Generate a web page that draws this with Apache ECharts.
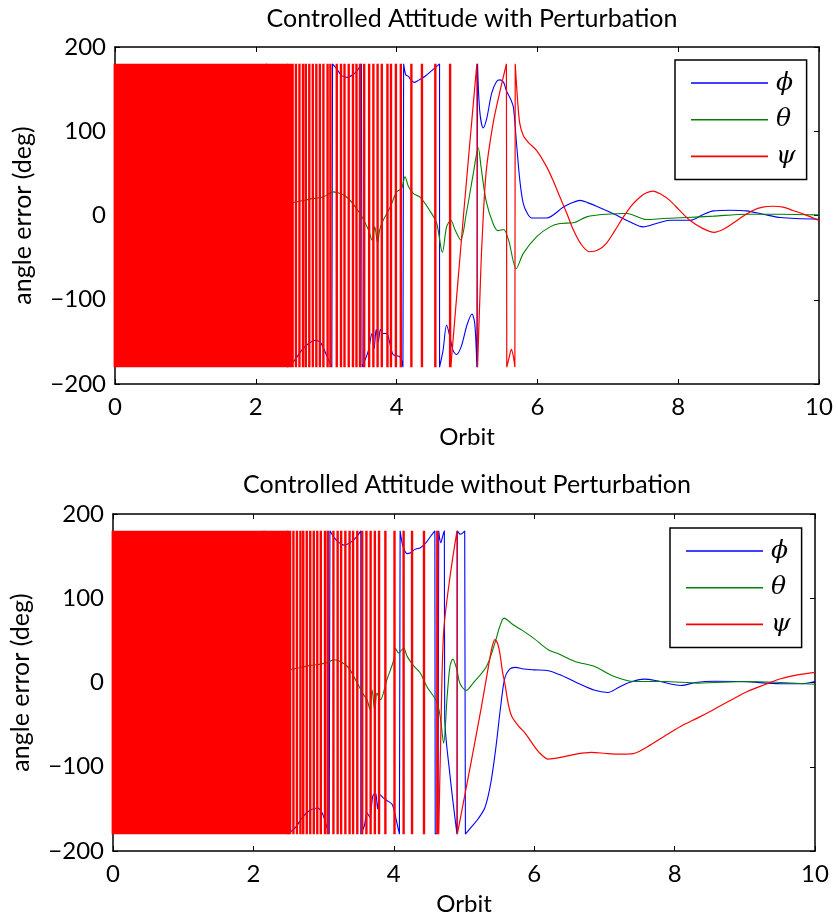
<!DOCTYPE html>
<html><head><meta charset="utf-8">
<script src="https://cdn.jsdelivr.net/npm/echarts@6/dist/echarts.min.js"></script>
<style>html,body{margin:0;padding:0;background:#fff}#c{width:838px;height:923px}</style>
</head><body><div id="c"></div>
<script>
// ---------- data ----------
const xTicks = [0, 2, 4, 6, 8, 10];
const yTicks = [-200, -100, 0, 100, 200];
const seriesNames = ['\u03d5', '\u03b8', '\u03c8'];   // ϕ, θ, ψ
const titles = ['Controlled Attitude with Perturbation', 'Controlled Attitude without Perturbation'];

// unresolved dense part of ψ (solid red band): estimated wrap-stroke positions (orbit)
const psiDense = [0.00,0.03,0.06,0.09,0.12,0.15,0.18,0.21,0.24,0.27,0.30,0.33,0.36,0.39,0.42,0.45,0.48,0.51,0.54,0.57,0.60,0.63,0.66,0.69,0.72,0.75,0.78,0.81,0.84,0.87,0.90,0.93,0.96,0.99,1.02,1.05,1.08,1.11,1.14,1.17,1.20,1.23,1.26,1.29,1.32,1.35,1.38,1.41,1.44,1.47,1.50,1.53,1.56,1.59,1.62,1.65,1.68,1.71,1.74,1.77,1.80,1.83,1.86,1.89,1.92,1.95,1.98,2.01,2.04,2.07,2.10,2.13,2.16,2.19,2.22,2.25,2.28,2.31,2.34,2.37,2.40,2.43,2.46,2.49,2.52];

// --- top chart (with perturbation) ---
const psiTopStrokes = [2.57,2.62,2.67,2.71,2.76,2.81,2.86,2.91,2.96,3.02,3.06,3.15,3.21,3.26,3.32,3.38,3.43,3.48,3.54,3.61,3.67,3.73,3.79,3.87,3.92,3.99,4.06,4.21,4.36,4.55,4.76];
const psiTopTail = [[4.77,-180],[4.95,0],[5.14,180],[5.15,-180],[5.19,-80],[5.21,-37],[5.27,50],[5.37,109],[5.47,148],[5.56,180],[5.565,-180],[5.6,-168],[5.63,-159],[5.66,-168],[5.68,-180],[5.685,180],[5.72,135],[5.75,109],[5.8,95],[5.88,86],[5.99,77],[6.13,58],[6.22,42],[6.32,22],[6.42,2],[6.51,-17],[6.62,-34],[6.74,-43],[6.86,-41],[6.98,-33],[7.1,-18],[7.22,-2],[7.34,12],[7.46,22],[7.55,27],[7.64,29],[7.76,25],[7.88,18],[8.02,6],[8.17,-6],[8.34,-15],[8.51,-20],[8.65,-16],[8.78,-9],[8.92,-1],[9.06,6],[9.2,10],[9.35,11],[9.49,10],[9.63,6],[9.8,1],[10,-6]];
const phiTop = [[0,57],[0.04,179],[1.0,179],[1.4,179],[1.4,-179],[1.8,-179],[2.15,-179],[2.15,180],[2.25,174],[2.33,169],[2.4,172],[2.45,180],[2.45,-180],[2.55,-172],[2.65,-160],[2.75,-152],[2.85,-148],[2.93,-152],[3.0,-165],[3.08,-180],[3.09,180],[3.15,174],[3.22,166],[3.3,164],[3.38,167],[3.45,173],[3.5,180],[3.51,-180],[3.55,-172],[3.6,-160],[3.65,-140],[3.68,-158],[3.71,-135],[3.74,-150],[3.77,-135],[3.8,-140],[3.86,-140],[3.9,-150],[3.95,-165],[4.05,-168],[4.09,-180],[4.1,180],[4.13,167],[4.17,165],[4.2,161],[4.25,158],[4.3,160],[4.4,165],[4.5,172],[4.61,180],[4.61,-180],[4.66,-160],[4.71,-130],[4.76,-145],[4.8,-160],[4.85,-165],[4.92,-155],[5.0,-130],[5.07,-117],[5.11,-128],[5.14,-180],[5.15,180],[5.18,125],[5.23,104],[5.28,115],[5.35,145],[5.42,159],[5.47,161],[5.52,158],[5.56,148],[5.62,138],[5.66,128],[5.7,89],[5.75,42],[5.8,14],[5.86,2],[5.92,-3],[6.13,-3],[6.37,10],[6.49,15],[6.61,18],[6.72,15],[6.84,11],[7.08,2],[7.31,-7.5],[7.5,-13.5],[7.69,-9.5],[7.88,-5.6],[8.17,-5.6],[8.35,1],[8.5,5.5],[8.74,6.3],[8.97,5.5],[9.21,1.5],[9.45,-2.4],[10,-4.4]];
const thetaTop = [[0,60],[0.1,40],[0.5,20],[1.0,10],[1.5,5],[2.0,10],[2.5,15],[2.8,20],[2.96,22],[3.1,28],[3.29,22],[3.48,2.4],[3.6,-17],[3.65,-29],[3.69,-13.5],[3.73,-33],[3.76,-17],[3.81,-5.6],[3.91,10],[4.0,28],[4.07,32],[4.12,46],[4.17,34],[4.24,26],[4.33,22],[4.47,6],[4.57,-9.5],[4.65,-44],[4.71,-13.5],[4.77,-5.6],[4.83,-17],[4.91,-29],[4.99,2.4],[5.09,50],[5.16,80.5],[5.2,57.6],[5.27,18],[5.37,-9.5],[5.44,-18],[5.52,-16.6],[5.59,-29],[5.7,-63],[5.8,-45],[5.99,-25],[6.18,-13.5],[6.32,-9.5],[6.51,-8.7],[6.7,-1.6],[6.98,1.5],[7.27,2.4],[7.55,-4.8],[7.79,-3.6],[8.12,-2.4],[8.5,-0.8],[8.97,1.5],[9.45,1.5],[10,0.7]];

// --- bottom chart (without perturbation) ---
const psiBotStrokes = [2.57,2.62,2.67,2.71,2.76,2.81,2.86,2.91,2.96,3.02,3.06,3.14,3.20,3.25,3.31,3.37,3.42,3.48,3.55,3.61,3.67,3.73,3.79,3.88,4.01,4.14,4.26,4.43,4.62];
const psiBotTail = [[4.64,-180],[4.67,-60],[4.71,60],[4.8,125],[4.9,180],[4.905,-180],[5.1,-95],[5.25,-28],[5.35,20],[5.4,42],[5.44,51],[5.48,46],[5.51,35],[5.55,12],[5.58,0],[5.63,-25],[5.68,-40],[5.78,-52],[5.87,-60],[5.97,-72],[6.06,-82],[6.2,-91],[6.3,-90],[6.43,-88],[6.6,-85],[6.81,-83],[7.0,-84],[7.14,-85],[7.3,-85],[7.43,-84],[7.62,-76],[7.85,-64],[8.09,-52],[8.33,-42],[8.56,-32],[8.8,-21],[9.03,-11],[9.27,-3],[9.51,4.4],[9.75,9],[10,12]];
const phiBot = [[0,57],[0.04,179],[1.0,179],[1.4,179],[1.4,-179],[1.8,-179],[2.15,-179],[2.15,180],[2.25,172],[2.35,168],[2.42,172],[2.49,180],[2.49,-180],[2.6,-172],[2.7,-160],[2.8,-152],[2.91,-149],[2.98,-155],[3.04,-170],[3.08,-180],[3.09,180],[3.15,172],[3.22,166],[3.29,163],[3.38,166],[3.46,172],[3.53,180],[3.53,-180],[3.58,-170],[3.62,-155],[3.66,-160],[3.7,-135],[3.74,-131],[3.77,-150],[3.8,-133],[3.85,-137],[3.9,-140],[3.98,-145],[4.04,-165],[4.08,-180],[4.09,180],[4.13,162],[4.19,153],[4.24,154],[4.3,158],[4.38,160],[4.45,165],[4.52,173],[4.585,180],[4.59,-180],[4.63,-178],[4.64,180],[4.67,166],[4.7,175],[4.72,180],[4.725,-40],[4.8,-110],[4.9,-180],[4.905,180],[4.95,176],[5.01,180],[5.02,-180],[5.1,-172],[5.2,-162],[5.3,-148],[5.38,-120],[5.45,-80],[5.52,-30],[5.58,5],[5.65,16],[5.73,18],[5.85,16],[6.0,15],[6.2,14],[6.4,8],[6.6,0],[6.85,-9],[7.05,-11.8],[7.2,-6],[7.35,0],[7.57,4],[7.75,2],[8.09,-3.5],[8.3,0],[8.56,1.5],[9.0,1],[9.51,-1.5],[9.8,-1.5],[10,1.2]];
const thetaBot = [[0,60],[0.1,40],[0.5,20],[1.0,10],[1.5,5],[2.0,10],[2.5,15],[2.8,20],[3.03,23],[3.15,27],[3.34,19],[3.48,-0.7],[3.57,-14.6],[3.62,-20.5],[3.66,-32],[3.69,-8.7],[3.73,-34],[3.76,-12.6],[3.81,-20.5],[3.9,3],[4.0,27],[4.02,41],[4.07,35],[4.14,41],[4.19,31],[4.28,20],[4.38,11],[4.47,-4.7],[4.61,-22.6],[4.66,-40],[4.71,-72],[4.76,-16.6],[4.8,19],[4.84,27.7],[4.9,15],[4.94,-0.7],[5.03,-9.5],[5.13,-0.7],[5.32,19],[5.44,46.8],[5.51,66.5],[5.57,76.4],[5.7,68.5],[5.82,62.5],[5.99,52.7],[6.2,38.8],[6.32,34.9],[6.58,25],[6.86,19],[7.14,7.1],[7.43,1.2],[7.85,1.2],[8.33,-0.7],[9.04,1.2],[9.51,0],[10,-2]];

// ---------- helpers ----------
// each wrap of the angle (jump of ~360 deg) becomes its own straight segment
function splitWraps(pts) {
  const out = [pts[0]];
  for (let i = 1; i < pts.length; i++) {
    const a = pts[i - 1], b = pts[i];
    if (Math.abs(b[1] - a[1]) > 250) out.push([a[0], '-'], a, b, [b[0], '-'], b);
    else out.push(b);
  }
  return out;
}
// full-range wrap strokes drawn as separate vertical segments
function strokes(xs) {
  const out = [];
  xs.forEach(s => { out.push([s, 180], [s, -180], [s, '-']); });
  return out;
}
const FONT = 'Lato';
const minus = v => (v < 0 ? '\u2212' + (-v) : String(v));

const grids = [
  { left: 115, right: 19, top: 47, height: 337 },
  { left: 110, right: 23, top: 514, height: 337 }
];
const xAxes = [], yAxes = [];
grids.forEach((g, gi) => {
  const common = { type: 'value', gridIndex: gi, splitLine: { show: false },
    axisLine: { show: true, onZero: false, lineStyle: { color: '#000', width: 1.5 } },
    axisTick: { show: true, inside: true, length: 5, lineStyle: { color: '#000', width: 1 } } };
  const xr = { min: xTicks[0], max: xTicks[xTicks.length - 1], interval: xTicks[1] - xTicks[0] };
  const yr = { min: yTicks[0], max: yTicks[yTicks.length - 1], interval: yTicks[1] - yTicks[0] };
  xAxes.push(Object.assign({}, common, xr, { position: 'bottom',
    name: 'Orbit', nameLocation: 'middle', nameGap: 41, nameTextStyle: { fontFamily: FONT, fontSize: 24, color: '#000' },
    axisLabel: { fontFamily: FONT, fontSize: 24, color: '#000', margin: 11 } }));
  xAxes.push(Object.assign({}, common, xr, { position: 'top', axisLabel: { show: false } }));
  yAxes.push(Object.assign({}, common, yr, { position: 'left',
    name: 'angle error (deg)', nameLocation: 'middle', nameGap: 80, nameRotate: 90,
    nameTextStyle: { fontFamily: FONT, fontSize: 25, color: '#000' },
    axisLabel: { fontFamily: FONT, fontSize: 24, color: '#000', margin: 9, formatter: minus } }));
  yAxes.push(Object.assign({}, common, yr, { position: 'right', axisLabel: { show: false } }));
});

const colors = { [seriesNames[0]]: '#0000ff', [seriesNames[1]]: '#008000', [seriesNames[2]]: '#ff0000' };
function line(name, gi, data, width, smooth) {
  return { type: 'line', name, xAxisIndex: gi * 2, yAxisIndex: gi * 2, data, symbol: 'none', showSymbol: false,
    smooth: smooth || false, connectNulls: false, animation: false,
    lineStyle: { color: colors[name], width: width || 1.1 }, itemStyle: { color: colors[name] } };
}
const [P, T, S] = seriesNames;
const series = [
  line(P, 0, splitWraps(phiTop), 1.1, 0.3), line(T, 0, thetaTop, 1.1, 0.3),
  line(S, 0, splitWraps(psiTopTail), 1.2, 0.3), line(S, 0, strokes(psiTopStrokes), 2.4), line(S, 0, strokes(psiDense), 2.8),
  line(P, 1, splitWraps(phiBot), 1.1, 0.3), line(T, 1, thetaBot, 1.1, 0.3),
  line(S, 1, splitWraps(psiBotTail), 1.2, 0.3), line(S, 1, strokes(psiBotStrokes), 2.4), line(S, 1, strokes(psiDense), 2.8)
];

function legendAt(left, top) {
  return { orient: 'vertical', left, top, data: seriesNames, backgroundColor: '#fff', borderColor: '#000', borderWidth: 1.5, borderRadius: 0,
    padding: [10, 11, 10, 16], icon: 'rect', itemWidth: 77, itemHeight: 1.6, itemGap: 10.7, selectedMode: false,
    textStyle: { fontFamily: 'DejaVu Serif', fontStyle: 'italic', fontSize: 25, color: '#000', lineHeight: 26, padding: [0, 0, 0, 3] } };
}

const chart = echarts.init(document.getElementById('c'), null, { renderer: 'canvas' });
chart.setOption({
  backgroundColor: '#fff',
  animation: false,
  title: [
    { text: titles[0], left: 467, top: 1, textAlign: 'center', textStyle: { fontFamily: FONT, fontSize: 25, fontWeight: 'normal', color: '#000' } },
    { text: titles[1], left: 462, top: 467, textAlign: 'center', textStyle: { fontFamily: FONT, fontSize: 25, fontWeight: 'normal', color: '#000' } }
  ],
  legend: [legendAt(675, 60), legendAt(670, 528)],
  grid: grids,
  xAxis: xAxes,
  yAxis: yAxes,
  series
});
</script></body></html>
